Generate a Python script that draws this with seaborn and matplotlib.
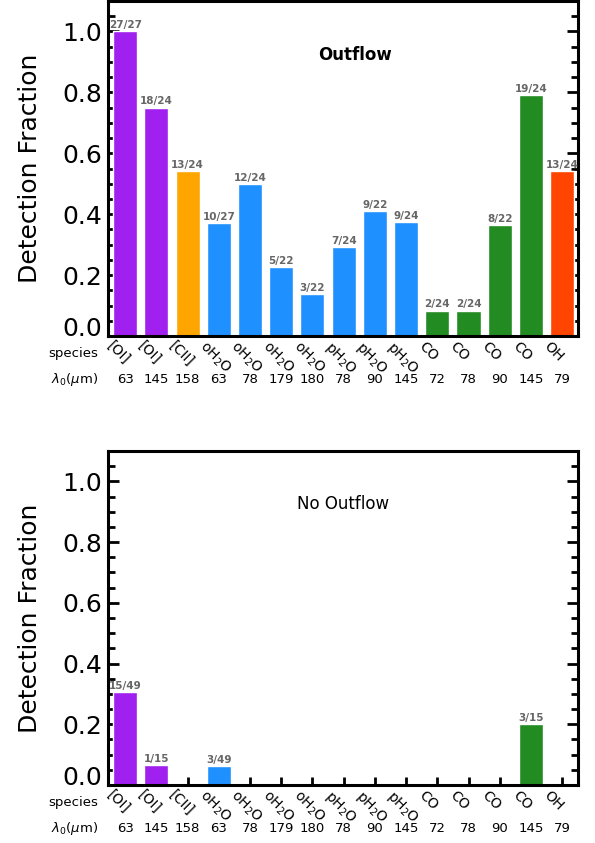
import numpy as np
import matplotlib
matplotlib.use("Agg")
import matplotlib.pyplot as plt
import matplotlib.transforms as mtransforms
from matplotlib.ticker import MultipleLocator
import pandas as pd
import seaborn as sns

# species / wavelengths for the 15 lines
species = ["[OI]", "[OI]", "[CII]", r"oH$_2$O", r"oH$_2$O", r"oH$_2$O", r"oH$_2$O",
           r"pH$_2$O", r"pH$_2$O", r"pH$_2$O", "CO", "CO", "CO", "CO", "OH"]
wavelengths = ["63", "145", "158", "63", "78", "179", "180", "78", "90", "145",
               "72", "78", "90", "145", "79"]
bar_colors = ["#A020F0", "#A020F0", "#FFA500", "#1E90FF", "#1E90FF", "#1E90FF", "#1E90FF",
              "#1E90FF", "#1E90FF", "#1E90FF", "#228B22", "#228B22", "#228B22", "#228B22",
              "#FF4500"]

# detections / sample size
outflow_det = [27, 18, 13, 10, 12, 5, 3, 7, 9, 9, 2, 2, 8, 19, 13]
outflow_tot = [27, 24, 24, 27, 24, 22, 22, 24, 22, 24, 24, 24, 22, 24, 24]
nooutflow_det = [15, 1, 0, 3, 0, 0, 0, 0, 0, 0, 0, 0, 0, 3, 0]
nooutflow_tot = [49, 15, 15, 49, 49, 49, 49, 49, 49, 49, 15, 15, 15, 15, 15]

sns.set_style("white")
plt.rcParams["font.family"] = ["DejaVu Sans"]
plt.rcParams["text.color"] = "black"
plt.rcParams["axes.labelcolor"] = "black"
plt.rcParams["xtick.color"] = "black"
plt.rcParams["ytick.color"] = "black"

fig = plt.figure(figsize=(5.95, 8.43), dpi=100)
ax1 = fig.add_axes([0.1815, 0.6014, 0.7895, 0.3974])
ax2 = fig.add_axes([0.1815, 0.0688, 0.7895, 0.3962])


def panel(ax, det, tot, title, weight, title_x):
    idx = list(range(len(species)))
    frac = [d / t for d, t in zip(det, tot)]
    df = pd.DataFrame({"idx": idx, "frac": frac})
    sns.barplot(data=df, x="idx", y="frac", hue="idx", palette=bar_colors,
                legend=False, width=0.77, saturation=1, ax=ax)
    ax.set_xlim(-0.55, 14.5)
    ax.set_ylim(0, 1.1)
    for i in idx:
        if det[i] > 0:
            ax.text(i, frac[i] + 0.004, f"{det[i]}/{tot[i]}", ha="center", va="bottom",
                    fontsize=7.5, color="#666666", fontweight="bold")
    ax.text(title_x, 0.84, title, transform=ax.transAxes, ha="center", va="center",
            fontsize=12, fontweight=weight)
    for sp in ax.spines.values():
        sp.set_visible(True)
        sp.set_color("black")
        sp.set_linewidth(2.2)
    ax.yaxis.set_major_locator(MultipleLocator(0.2))
    ax.yaxis.set_minor_locator(MultipleLocator(0.05))
    ax.tick_params(axis="y", which="major", direction="in", length=8, width=2,
                   left=True, right=True, labelsize=18, pad=4)
    ax.tick_params(axis="y", which="minor", direction="in", length=5, width=2,
                   left=True, right=True)
    ax.tick_params(axis="x", which="major", direction="in", length=6, width=2,
                   bottom=True, top=False, labelsize=10, pad=2)
    ax.set_yticks(np.arange(0, 1.01, 0.2))
    # lift the 0.0 label off the frame corner
    fig.canvas.draw()
    ylabs = ax.get_yticklabels()
    ylabs[0].set_transform(ylabs[0].get_transform()
                           + mtransforms.ScaledTranslation(0, 7 / 72, fig.dpi_scale_trans))
    ax.set_xticks(idx)
    ax.set_xticklabels(species, rotation=-45, ha="left", rotation_mode="anchor")
    off = mtransforms.ScaledTranslation(-8 / 72, 0, fig.dpi_scale_trans)
    for lab in ax.get_xticklabels():
        lab.set_transform(lab.get_transform() + off)
    ax.set_xlabel("")
    ax.set_ylabel("Detection Fraction", fontsize=18, labelpad=15)
    trans = mtransforms.blended_transform_factory(ax.transData, ax.transAxes)
    for i in idx:
        ax.text(i, -0.13, wavelengths[i], transform=trans, ha="center", va="center",
                fontsize=9.5)
    ax.text(-0.02, -0.052, "species", transform=ax.transAxes, ha="right", va="center",
            fontsize=9.5)
    ax.text(-0.02, -0.13, r"$\lambda_0$($\mu$m)", transform=ax.transAxes, ha="right",
            va="center", fontsize=9.5)


panel(ax1, outflow_det, outflow_tot, "Outflow", "bold", 0.525)
panel(ax2, nooutflow_det, nooutflow_tot, "No Outflow", "normal", 0.50)

fig.savefig("out.png", dpi=100)
